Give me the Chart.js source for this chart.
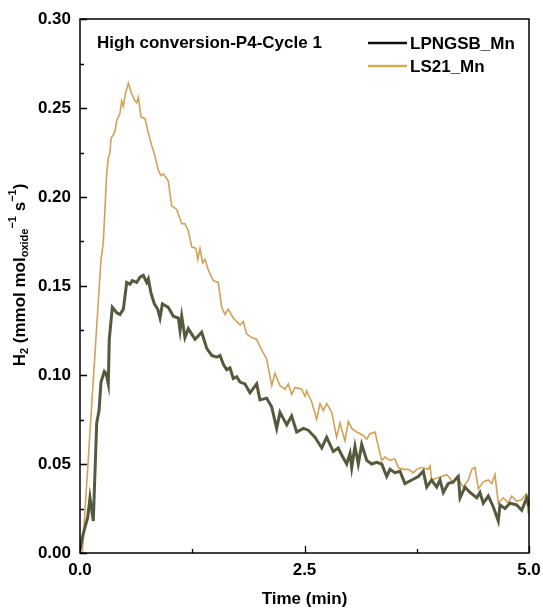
<!DOCTYPE html>
<html>
<head>
<meta charset="utf-8">
<script src="https://cdn.jsdelivr.net/npm/chart.js@4.4.1/dist/chart.umd.min.js"></script>
<style>
    html, body { margin: 0; padding: 0; background: #fff; }
    #wrap { width: 543px; height: 610px; }
</style>
</head>
<body>
<div id="wrap"><canvas id="h2-chart"></canvas></div>
<script>
// LPNGSB_Mn (time in min, rate)
const lpngsbTime = [0.000, 0.037, 0.086, 0.111, 0.148, 0.186, 0.212, 0.234, 0.271, 0.290, 0.315, 0.326, 0.360, 0.409, 0.445, 0.483, 0.520, 0.557, 0.582, 0.631, 0.668, 0.705, 0.743, 0.761, 0.791, 0.828, 0.865, 0.891, 0.917, 0.983, 1.039, 1.095, 1.114, 1.133, 1.169, 1.206, 1.281, 1.355, 1.411, 1.467, 1.522, 1.559, 1.596, 1.634, 1.670, 1.707, 1.745, 1.782, 1.837, 1.893, 1.968, 2.004, 2.079, 2.135, 2.190, 2.227, 2.302, 2.357, 2.413, 2.487, 2.542, 2.617, 2.692, 2.747, 2.821, 2.876, 2.914, 2.970, 3.007, 3.026, 3.062, 3.099, 3.137, 3.193, 3.248, 3.304, 3.360, 3.415, 3.452, 3.508, 3.563, 3.619, 3.694, 3.767, 3.823, 3.861, 3.916, 3.972, 4.009, 4.046, 4.101, 4.157, 4.213, 4.232, 4.287, 4.343, 4.418, 4.454, 4.491, 4.547, 4.602, 4.658, 4.677, 4.733, 4.788, 4.863, 4.919, 4.974, 5.000];
const lpngsbRate = [0.002, 0.011, 0.020, 0.031, 0.018, 0.073, 0.080, 0.096, 0.102, 0.101, 0.095, 0.120, 0.138, 0.135, 0.134, 0.137, 0.152, 0.151, 0.153, 0.152, 0.155, 0.156, 0.152, 0.154, 0.146, 0.140, 0.137, 0.132, 0.140, 0.138, 0.133, 0.132, 0.125, 0.133, 0.121, 0.126, 0.120, 0.124, 0.115, 0.111, 0.110, 0.111, 0.106, 0.103, 0.104, 0.098, 0.099, 0.096, 0.095, 0.090, 0.095, 0.086, 0.087, 0.082, 0.070, 0.079, 0.072, 0.077, 0.068, 0.070, 0.069, 0.065, 0.059, 0.065, 0.057, 0.059, 0.055, 0.050, 0.056, 0.048, 0.060, 0.050, 0.061, 0.052, 0.050, 0.051, 0.050, 0.043, 0.047, 0.045, 0.046, 0.039, 0.041, 0.043, 0.046, 0.037, 0.041, 0.037, 0.041, 0.034, 0.039, 0.040, 0.043, 0.031, 0.037, 0.034, 0.031, 0.034, 0.028, 0.032, 0.026, 0.018, 0.027, 0.025, 0.028, 0.027, 0.024, 0.031, 0.026];

// LS21_Mn
const ls21Time = [0.026, 0.130, 0.234, 0.259, 0.297, 0.315, 0.334, 0.345, 0.371, 0.390, 0.409, 0.445, 0.464, 0.483, 0.501, 0.538, 0.576, 0.612, 0.631, 0.650, 0.679, 0.724, 0.761, 0.798, 0.835, 0.872, 0.902, 0.928, 0.983, 1.021, 1.077, 1.133, 1.169, 1.206, 1.244, 1.292, 1.311, 1.336, 1.366, 1.392, 1.429, 1.484, 1.540, 1.578, 1.615, 1.651, 1.707, 1.782, 1.818, 1.856, 1.912, 1.968, 2.024, 2.079, 2.135, 2.171, 2.227, 2.283, 2.320, 2.357, 2.394, 2.469, 2.506, 2.524, 2.580, 2.636, 2.673, 2.709, 2.747, 2.803, 2.858, 2.895, 2.951, 2.988, 3.026, 3.081, 3.155, 3.193, 3.229, 3.285, 3.322, 3.360, 3.396, 3.452, 3.508, 3.545, 3.600, 3.656, 3.712, 3.749, 3.805, 3.879, 3.898, 3.916, 3.972, 4.028, 4.084, 4.120, 4.157, 4.195, 4.268, 4.324, 4.362, 4.399, 4.436, 4.491, 4.547, 4.587, 4.621, 4.658, 4.714, 4.770, 4.807, 4.863, 4.919, 4.967, 4.993];
const ls21Rate = [0.000, 0.083, 0.165, 0.174, 0.213, 0.222, 0.225, 0.233, 0.235, 0.237, 0.243, 0.247, 0.254, 0.251, 0.257, 0.264, 0.258, 0.254, 0.253, 0.256, 0.245, 0.244, 0.236, 0.229, 0.223, 0.215, 0.212, 0.213, 0.209, 0.195, 0.193, 0.185, 0.185, 0.181, 0.172, 0.171, 0.165, 0.171, 0.163, 0.165, 0.159, 0.153, 0.152, 0.138, 0.134, 0.137, 0.132, 0.128, 0.130, 0.123, 0.121, 0.120, 0.114, 0.109, 0.094, 0.101, 0.094, 0.092, 0.095, 0.089, 0.093, 0.092, 0.088, 0.091, 0.085, 0.075, 0.084, 0.080, 0.084, 0.079, 0.065, 0.073, 0.063, 0.074, 0.070, 0.068, 0.066, 0.064, 0.067, 0.068, 0.060, 0.052, 0.054, 0.052, 0.053, 0.048, 0.047, 0.047, 0.045, 0.047, 0.048, 0.047, 0.049, 0.041, 0.042, 0.043, 0.044, 0.042, 0.039, 0.043, 0.037, 0.041, 0.047, 0.048, 0.036, 0.040, 0.041, 0.039, 0.044, 0.028, 0.031, 0.028, 0.032, 0.029, 0.030, 0.033, 0.022];

const seriesNames = ["LPNGSB_Mn", "LS21_Mn"];
const lineColors = ["#555a3d", "#d4a058"];
const legendColors = ["#111111", "#d3ae52"];

const xTickLabels = [0.0, 2.5, 5.0];
const yTickLabels = [0.00, 0.05, 0.10, 0.15, 0.20, 0.25, 0.30];

const panelTitle = "High conversion-P4-Cycle 1";
const xTitle = "Time (min)";

const FONT = "'Liberation Sans', Arial, sans-serif";

function toPoints(xs, ys) {
    return xs.map((x, i) => ({ x: x, y: ys[i] }));
}

// frame, inward ticks, axis titles, panel title and legend
const decorPlugin = {
    id: 'decor',
    afterDraw(chart) {
        const ctx = chart.ctx;
        const area = chart.chartArea;
        const xs = chart.scales.x;
        const ys = chart.scales.y;
        ctx.save();

        // box
        ctx.strokeStyle = '#000';
        ctx.lineWidth = 1.5;
        ctx.strokeRect(area.left, area.top, area.right - area.left, area.bottom - area.top);

        // ticks pointing inward
        ctx.lineWidth = 1.3;
        ctx.beginPath();
        for (let v = 0; v <= 5.0001; v += 1.25) {
            const px = Math.round(xs.getPixelForValue(v)) + 0.5;
            const major = Math.abs(v / 2.5 - Math.round(v / 2.5)) < 1e-6;
            ctx.moveTo(px, area.bottom);
            ctx.lineTo(px, area.bottom - (major ? 7 : 4));
        }
        for (let v = 0; v <= 0.30001; v += 0.025) {
            const py = Math.round(ys.getPixelForValue(v)) + 0.5;
            const major = Math.abs(v / 0.05 - Math.round(v / 0.05)) < 1e-6;
            ctx.moveTo(area.left, py);
            ctx.lineTo(area.left + (major ? 7 : 4), py);
        }
        ctx.stroke();

        ctx.fillStyle = '#000';
        ctx.textBaseline = 'middle';

        // x title
        ctx.font = 'bold 17px ' + FONT;
        ctx.textAlign = 'center';
        ctx.fillText(xTitle, (area.left + area.right) / 2, 599);

        // y title with sub/superscripts
        const parts = [
            { t: 'H', s: 17, dy: 0 },
            { t: '2', s: 11, dy: 5 },
            { t: ' (mmol mol', s: 17, dy: 0 },
            { t: 'oxide', s: 11, dy: 5 },
            { t: '\u22121', s: 11, dy: -7 },
            { t: ' s', s: 17, dy: 0 },
            { t: '\u22121', s: 11, dy: -7 },
            { t: ')', s: 17, dy: 0 }
        ];
        let total = 0;
        parts.forEach(p => {
            ctx.font = 'bold ' + p.s + 'px ' + FONT;
            p.w = ctx.measureText(p.t).width;
            total += p.w;
        });
        ctx.save();
        ctx.translate(20, 275);
        ctx.rotate(-Math.PI / 2);
        ctx.textAlign = 'left';
        let cx = -total / 2;
        parts.forEach(p => {
            ctx.font = 'bold ' + p.s + 'px ' + FONT;
            ctx.fillText(p.t, cx, p.dy);
            cx += p.w;
        });
        ctx.restore();

        // panel title
        ctx.font = 'bold 17px ' + FONT;
        ctx.textAlign = 'left';
        ctx.fillText(panelTitle, 97, 43);

        // legend
        ctx.font = 'bold 17px ' + FONT;
        seriesNames.forEach((name, i) => {
            const y = 43 + i * 23;
            ctx.strokeStyle = legendColors[i];
            ctx.lineWidth = 2.5;
            ctx.beginPath();
            ctx.moveTo(368, y);
            ctx.lineTo(407, y);
            ctx.stroke();
            ctx.fillText(name, 410, y + 1);
        });

        ctx.restore();
    }
};

const chart = new Chart(document.getElementById('h2-chart'), {
    type: 'line',
    data: {
        datasets: [
            {
                label: seriesNames[0],
                data: toPoints(lpngsbTime, lpngsbRate),
                borderColor: lineColors[0],
                borderWidth: 3,
                pointRadius: 0,
                tension: 0
            },
            {
                label: seriesNames[1],
                data: toPoints(ls21Time, ls21Rate),
                borderColor: lineColors[1],
                borderWidth: 1.6,
                pointRadius: 0,
                tension: 0
            }
        ]
    },
    options: {
        responsive: true,
        maintainAspectRatio: false,
        animation: false,
        layout: { padding: { left: 0, right: 14, top: 19, bottom: 0 } },
        plugins: {
            legend: { display: false },
            tooltip: { enabled: false }
        },
        scales: {
            x: {
                type: 'linear',
                min: 0,
                max: 5,
                afterFit: (scale) => {
                    scale.height = 57;
                    scale.paddingLeft = 0;
                    scale.paddingRight = 0;
                },
                afterBuildTicks: (scale) => { scale.ticks = xTickLabels.map(v => ({ value: v })); },
                grid: { display: false, drawTicks: false },
                border: { display: false },
                ticks: {
                    padding: 7,
                    color: '#000',
                    font: { family: FONT, size: 17, weight: 'bold' },
                    callback: (v) => Number(v).toFixed(1)
                }
            },
            y: {
                min: 0,
                max: 0.30,
                afterFit: (scale) => {
                    scale.width = 80;
                    scale.paddingTop = 0;
                    scale.paddingBottom = 0;
                },
                afterBuildTicks: (scale) => { scale.ticks = yTickLabels.map(v => ({ value: v })); },
                grid: { display: false, drawTicks: false },
                border: { display: false },
                ticks: {
                    padding: 9,
                    color: '#000',
                    font: { family: FONT, size: 17, weight: 'bold' },
                    callback: (v) => Number(v).toFixed(2)
                }
            }
        }
    },
    plugins: [decorPlugin]
});
</script>
</body>
</html>
